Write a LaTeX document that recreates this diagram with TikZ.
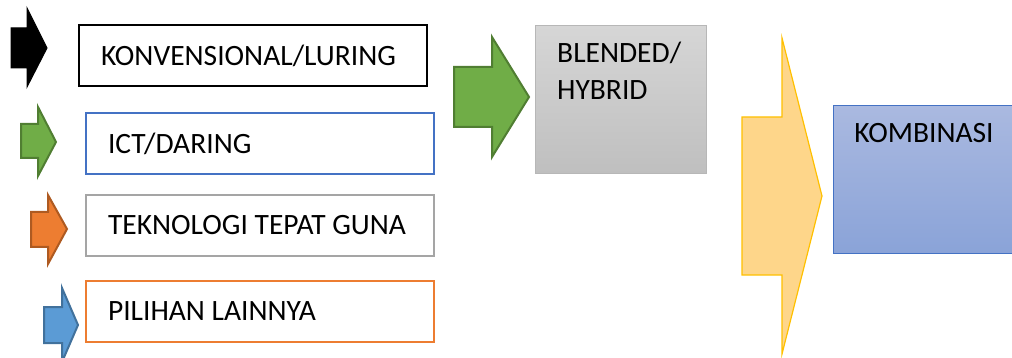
\documentclass[tikz,border=0pt]{standalone}
\usepackage{fontspec}
\setmainfont{Carlito}
\usetikzlibrary{positioning}

\definecolor{grfill}{HTML}{70AD47}
\definecolor{grline}{HTML}{507E32}
\definecolor{orfill}{HTML}{ED7D31}
\definecolor{orline}{HTML}{AE5A21}
\definecolor{blfill}{HTML}{5B9BD5}
\definecolor{blline}{HTML}{41719C}
\definecolor{ictline}{HTML}{4472C4}
\definecolor{ttgline}{HTML}{A5A5A5}
\definecolor{yefill}{HTML}{FED68A}
\definecolor{yeline}{HTML}{FFC000}
\definecolor{hytop}{HTML}{D6D6D6}
\definecolor{hybot}{HTML}{BFBFBF}
\definecolor{kotop}{HTML}{AAB9E0}
\definecolor{kobot}{HTML}{8AA3D8}

\newcommand{\optlabel}[1]{\makebox[304pt][l]{#1}}

\tikzset{
  optbox/.style={draw, line width=2pt, anchor=north west, minimum width=348pt,
    minimum height=61pt, inner xsep=22pt},
  txt/.style={font=\fontsize{29.5}{37}\selectfont}
}

\begin{document}
\begin{tikzpicture}[x=1pt, y=-1pt, txt]
  \useasboundingbox (0,0) rectangle (1012,358);
  \clip (0,0) rectangle (1012,358);
  % small arrows on the left
  \draw[fill=black, line width=1pt] (11,28) -- (27,28) -- (27,8) -- (47,48) -- (27,87) -- (27,68) -- (11,68) -- cycle;
  \draw[fill=grfill, draw=grline, line width=2pt] (21,124) -- (38,124) -- (38,107) -- (56,142) -- (38,176) -- (38,158) -- (21,158) -- cycle;
  \draw[fill=orfill, draw=orline, line width=2pt] (31,212) -- (48,212) -- (48,195) -- (67,229) -- (48,264) -- (48,247) -- (31,247) -- cycle;
  \draw[fill=blfill, draw=blline, line width=2pt] (44,307) -- (62,307) -- (62,288) -- (78,325) -- (62,362) -- (62,343) -- (44,343) -- cycle;
  % option boxes
  \node[optbox, draw=black] (luring) at (78,24) {\optlabel{KONVENSIONAL/LURING}};
  \node[optbox, draw=ictline] (daring) at (85,112) {\optlabel{ICT/DARING}};
  \node[optbox, draw=ttgline] (ttg) at (85,194) {\optlabel{TEKNOLOGI TEPAT GUNA}};
  \node[optbox, draw=orfill] (lain) at (85,280) {\optlabel{PILIHAN LAINNYA}};
  % blended
  \draw[fill=grfill, draw=grline, line width=2pt] (454,67) -- (492,67) -- (492,37) -- (529,97) -- (492,157) -- (492,127) -- (454,127) -- cycle;
  \node[draw=ttgline!80, line width=1pt, top color=hytop, bottom color=hybot, anchor=north west,
    minimum width=171pt, minimum height=148pt] (hybrid) at (535,25) {};
  \node[anchor=north west, inner sep=0pt, align=left] (hybridtxt) at (557,42) {BLENDED/\\HYBRID};
  % kombinasi
  \draw[fill=yefill, draw=yeline, line width=1.2pt] (742,117) -- (782,117) -- (782,38) -- (822,196) -- (782,354) -- (782,275) -- (742,275) -- cycle;
  \node[draw=ictline, line width=1pt, top color=kotop, bottom color=kobot, anchor=north west,
    minimum width=200pt, minimum height=148pt] (kombinasi) at (833,105) {};
  \node[anchor=base] (kombinasitxt) at (924,143) {KOMBINASI};
\end{tikzpicture}
\end{document}
